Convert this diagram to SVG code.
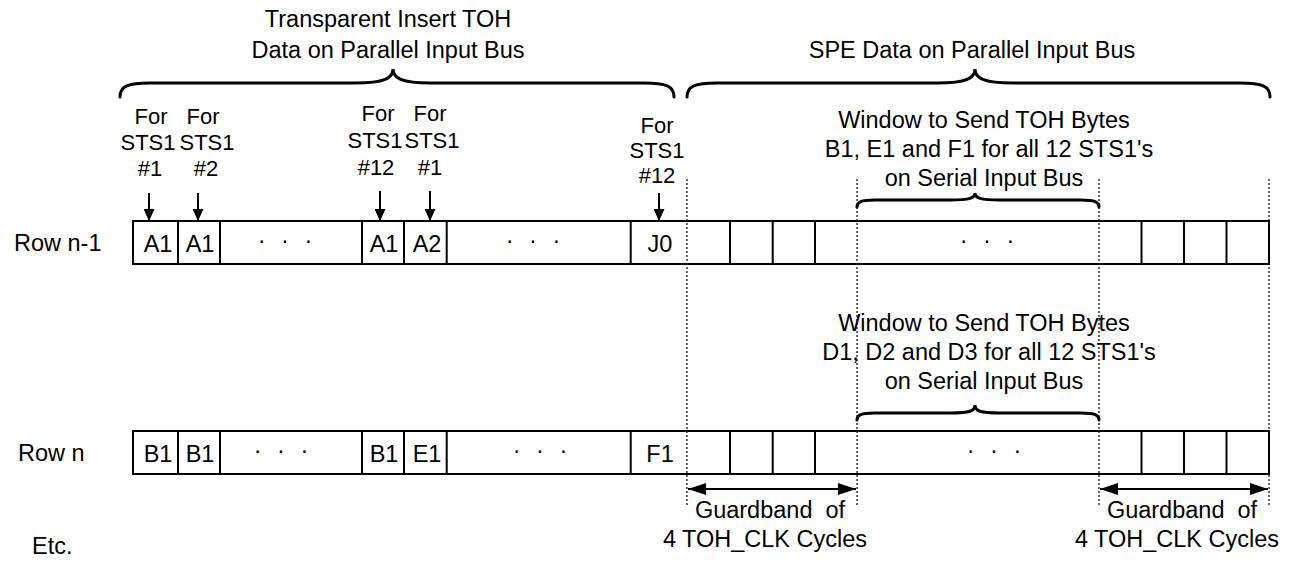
<svg xmlns="http://www.w3.org/2000/svg" width="1291" height="569" viewBox="0 0 1291 569">
<defs>
<style>
text{font-family:"Liberation Sans",Arial,sans-serif;font-size:23.5px;fill:#000}
.c{text-anchor:middle}
.lb{font-size:22px}
.box{fill:#fff;stroke:#000;stroke-width:2}
.div{stroke:#000;stroke-width:2}
.dot{stroke:#000;stroke-width:1.2;stroke-dasharray:2 2;fill:none}
.brace{fill:none;stroke:#000;stroke-width:3;stroke-linecap:round}
.arr{stroke:#000;stroke-width:2;fill:none}
.dots{word-spacing:9px}
</style>
<marker id="ah" viewBox="0 0 12 11" refX="12" refY="5.5" markerWidth="12" markerHeight="11" markerUnits="userSpaceOnUse" orient="auto">
<path d="M0,0 L12,5.5 L0,11 z" fill="#000"/>
</marker>
<marker id="ahg" viewBox="0 0 18 12" refX="18" refY="6" markerWidth="18" markerHeight="12" markerUnits="userSpaceOnUse" orient="auto-start-reverse">
<path d="M0,0 L18,6 L0,12 z" fill="#000"/>
</marker>
</defs>

<g id="title-toh">
<text class="c" x="388" y="27">Transparent Insert TOH</text>
<text class="c" x="388" y="58">Data on Parallel Input Bus</text>
<path class="brace" d="M120,97 C120,86 128,83 150,83 L355,83 C385,83 393,78 393,69 C393,78 401,83 431,83 L644,83 C666,83 674,86 674,97"/>
</g>

<g id="title-spe">
<text class="c" x="972" y="58">SPE Data on Parallel Input Bus</text>
<path class="brace" d="M687,97 C687,86 695,83 717,83 L937,83 C967,83 975,78 975,69 C975,78 983,83 1013,83 L1240,83 C1262,83 1270,86 1270,97"/>
</g>

<g id="window1">
<text class="c" x="984" y="128">Window to Send TOH Bytes</text>
<text class="c" x="989" y="157">B1, E1 and F1 for all 12 STS1's</text>
<text class="c" x="984" y="186">on Serial Input Bus</text>
<path class="brace" d="M857,207 C857,202 861,200 875,200 L950,200 C970,200 975,198 975,193 C975,198 980,200 1000,200 L1081,200 C1095,200 1099,202 1099,207"/>
</g>

<g id="window2">
<text class="c" x="984" y="331">Window to Send TOH Bytes</text>
<text class="c" x="989" y="360">D1, D2 and D3 for all 12 STS1's</text>
<text class="c" x="984" y="389">on Serial Input Bus</text>
<path class="brace" d="M857,420 C857,415 861,413 875,413 L950,413 C970,413 975,411 975,405 C975,411 980,413 1000,413 L1081,413 C1095,413 1099,415 1099,420"/>
</g>

<g id="label-sts1-1a">
<text class="c lb" x="151" y="124">For</text>
<text class="c lb" x="148" y="150">STS1</text>
<text class="c lb" x="150" y="176">#1</text>
</g>
<g id="label-sts1-2">
<text class="c lb" x="203" y="124">For</text>
<text class="c lb" x="207" y="150">STS1</text>
<text class="c lb" x="206" y="176">#2</text>
</g>
<g id="label-sts1-12a">
<text class="c lb" x="378" y="121">For</text>
<text class="c lb" x="375" y="148">STS1</text>
<text class="c lb" x="376" y="175">#12</text>
</g>
<g id="label-sts1-1b">
<text class="c lb" x="430" y="121">For</text>
<text class="c lb" x="432" y="148">STS1</text>
<text class="c lb" x="430" y="175">#1</text>
</g>
<g id="label-sts1-12b">
<text class="c lb" x="657" y="133">For</text>
<text class="c lb" x="657" y="158">STS1</text>
<text class="c lb" x="657" y="183">#12</text>
</g>

<g id="row-n-1">
<text x="14" y="251">Row n-1</text>
<rect class="box" x="133" y="221" width="1136" height="43"/>
<path class="div" d="M178,221V264M220,221V264M362,221V264M404,221V264M446.7,221V264M630.7,221V264M730,221V264M772.7,221V264M815,221V264M1141.5,221V264M1184,221V264M1226.5,221V264"/>
<text class="c" x="158" y="252">A1</text>
<text class="c" x="200" y="252">A1</text>
<text class="c dots" x="285" y="248">· · ·</text>
<text class="c" x="384" y="252">A1</text>
<text class="c" x="427" y="252">A2</text>
<text class="c dots" x="533" y="248">· · ·</text>
<text class="c" x="660" y="252">J0</text>
<text class="c dots" x="987" y="248">· · ·</text>
</g>

<g id="row-n">
<text x="18" y="461">Row n</text>
<rect class="box" x="133" y="431" width="1136" height="43"/>
<path class="div" d="M178,431V474M220,431V474M362,431V474M404,431V474M446.7,431V474M630.7,431V474M730,431V474M772.7,431V474M815,431V474M1141.5,431V474M1184,431V474M1226.5,431V474"/>
<text class="c" x="158" y="462">B1</text>
<text class="c" x="200" y="462">B1</text>
<text class="c dots" x="281" y="458">· · ·</text>
<text class="c" x="384" y="462">B1</text>
<text class="c" x="427" y="462">E1</text>
<text class="c dots" x="540" y="458">· · ·</text>
<text class="c" x="660" y="462">F1</text>
<text class="c dots" x="994" y="458">· · ·</text>
</g>

<g id="guard-lines">
<path class="dot" d="M687,179V507M857,179V507M1099,179V507M1269,179V507"/>
</g>

<g id="guardband-1">
<text class="c" x="770" y="518">Guardband&#160; of</text>
<text class="c" x="765" y="547">4 TOH_CLK Cycles</text>
</g>
<g id="guardband-2">
<text class="c" x="1182" y="518">Guardband&#160; of</text>
<text class="c" x="1177" y="547">4 TOH_CLK Cycles</text>
</g>

<g id="etc">
<text x="32" y="554">Etc.</text>
</g>

<g id="connectors">
<path class="arr" marker-end="url(#ah)" d="M149,193V221"/>
<path class="arr" marker-end="url(#ah)" d="M198,193V221"/>
<path class="arr" marker-end="url(#ah)" d="M380,191V221"/>
<path class="arr" marker-end="url(#ah)" d="M430,191V221"/>
<path class="arr" marker-end="url(#ah)" d="M659,193V221"/>
<path class="arr" marker-start="url(#ahg)" marker-end="url(#ahg)" d="M688,489H856"/>
<path class="arr" marker-start="url(#ahg)" marker-end="url(#ahg)" d="M1100,489H1268"/>
</g>
</svg>
